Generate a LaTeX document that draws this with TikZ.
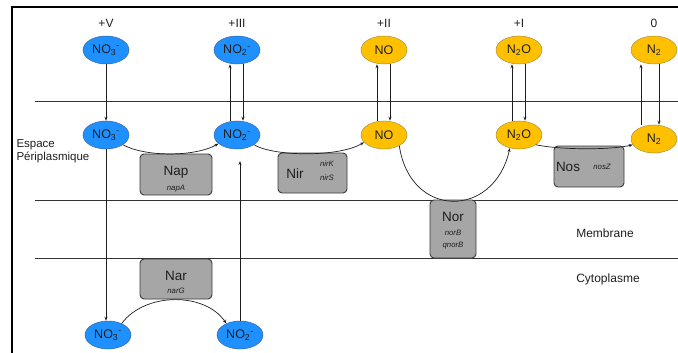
\documentclass[tikz,border=0pt]{standalone}
\usepackage{fontspec}
\setmainfont{Liberation Sans}
\usetikzlibrary{shapes.geometric,arrows.meta}
\definecolor{molblue}{RGB}{30,144,255}
\definecolor{molblueedge}{RGB}{60,100,160}
\definecolor{molyellow}{RGB}{255,192,0}
\definecolor{molyellowedge}{RGB}{170,140,60}
\definecolor{enzfill}{RGB}{166,166,166}
\definecolor{enzedge}{RGB}{60,60,60}
\definecolor{txt}{RGB}{30,30,30}
\newcommand{\subsup}[2]{\textsubscript{#1}\textsuperscript{#2}}
\tikzset{
  mol/.style={ellipse,minimum width=46pt,minimum height=28pt,inner sep=0pt,font=\fontsize{12.5}{13}\selectfont,text=txt},
  bluemol/.style={mol,fill=molblue,draw=molblueedge,line width=0.5pt},
  yelmol/.style={mol,fill=molyellow,draw=molyellowedge,line width=0.5pt},
  enz/.style={draw=enzedge,fill=enzfill,rounded corners=4pt,line width=0.9pt,inner sep=0pt},
  enzname/.style={font=\fontsize{13.5}{14}\selectfont,text=txt},
  gene/.style={font=\fontsize{7.8}{8}\selectfont\itshape,text=txt},
  lbl/.style={font=\fontsize{12}{13}\selectfont,text=txt},
  arr/.style={-{Stealth[length=4pt,width=3pt]},line width=0.7pt,draw=txt},
  sep/.style={line width=0.9pt,draw=black!80},
}
\begin{document}
\begin{tikzpicture}[x=1pt,y=-1pt]
\useasboundingbox (0,0) rectangle (678,353);
% frame
\draw[line width=1.6pt] (12,353) -- (12,7) -- (678,7);
% layer lines
\draw[sep] (35,101) -- (678,101);
\draw[sep] (35,200) -- (678,200);
\draw[sep] (35,258) -- (678,258);
% enzymes
\node[enz,minimum width=72pt,minimum height=41pt] (nap) at (176,174.5) {};
\node[enzname] (napt) at (176,172) {Nap};
\node[gene] (napg) at (176,189) {napA};
\node[enz,minimum width=69pt,minimum height=40pt] (nir) at (312.5,173) {};
\node[enzname] (nirt) at (295,174) {Nir};
\node[gene] (nirk) at (327,164) {nirK};
\node[gene] (nirs) at (327,177.5) {nirS};
\node[enz,minimum width=70pt,minimum height=41pt] (nos) at (589,166.5) {};
\node[enzname] (nost) at (568,167) {Nos};
\node[gene] (nosg) at (602,167) {nosZ};
\node[enz,minimum width=46pt,minimum height=58pt] (nor) at (453,229) {};
\node[enzname] (nort) at (453,217) {Nor};
\node[gene] (norb) at (453,233) {norB};
\node[gene] (qnorb) at (453,246) {qnorB};
\node[enz,minimum width=72pt,minimum height=40pt] (nar) at (176,279) {};
\node[enzname] (nart) at (176,276) {Nar};
\node[gene] (narg) at (176,291) {narG};
% oxidation states
\node[lbl] (sV) at (106,23) {+V};
\node[lbl] (sIII) at (237,23) {+III};
\node[lbl] (sII) at (384,23) {+II};
\node[lbl] (sI) at (519,23) {+I};
\node[lbl] (s0) at (654,23) {0};
% compartment labels
\node[lbl,align=left,anchor=west,font=\fontsize{11.5}{13.5}\selectfont] (peri) at (13,151) {Espace\\Périplasmique};
\node[lbl] (memb) at (605,233) {Membrane};
\node[lbl] (cyto) at (608,279) {Cytoplasme};
% top row
\node[bluemol] (t3) at (106,50) {NO\subsup{3}{-}};
\node[bluemol] (t2) at (237,50) {NO\subsup{2}{-}};
\node[yelmol] (tno) at (384,50) {NO};
\node[yelmol] (tn2o) at (519,50) {N\textsubscript{2}O};
\node[yelmol] (tn2) at (654,50) {N\textsubscript{2}};
% periplasm row
\node[bluemol] (m3) at (106,135) {NO\subsup{3}{-}};
\node[bluemol] (m2) at (237,135) {NO\subsup{2}{-}};
\node[yelmol] (mno) at (384,135) {NO};
\node[yelmol] (mn2o) at (519,135) {N\textsubscript{2}O};
\node[yelmol] (mn2) at (654,139) {N\textsubscript{2}};
% cytoplasm row
\node[bluemol] (b3) at (108,335) {NO\subsup{3}{-}};
\node[bluemol] (b2) at (240,335) {NO\subsup{2}{-}};
% vertical transport arrows
\draw[arr] (t3) -- (m3);
\draw[arr] (m3) -- (b3.north -| m3.south);
\draw[arr] ([xshift=-7pt]m2.north) -- ([xshift=-7pt]t2.south);
\draw[arr] ([xshift=6pt]t2.south) -- ([xshift=6pt]m2.north);
\draw[arr] ([xshift=-7pt]mno.north) -- ([xshift=-7pt]tno.south);
\draw[arr] ([xshift=6pt]tno.south) -- ([xshift=6pt]mno.north);
\draw[arr] ([xshift=-7pt]mn2o.north) -- ([xshift=-7pt]tn2o.south);
\draw[arr] ([xshift=6pt]tn2o.south) -- ([xshift=6pt]mn2o.north);
\draw[arr] ([xshift=-13pt]mn2.north) -- ([xshift=-13pt]tn2.south);
\draw[arr] ([xshift=5pt]tn2.south) -- ([xshift=5pt]mn2.north);
\coordinate (upend) at (240,161);
\draw[arr] (b2.north) -- (upend);
% reaction curves
\draw[arr] (m3.-30) .. controls (145,157) and (195,157) .. (m2.205);
\draw[arr] (m2.-30) .. controls (275,157) and (340,157) .. (mno.200);
\draw[arr] (mno.-35) .. controls (410,219) and (494,219) .. (mn2o.235);
\draw[arr] (mn2o.-30) .. controls (560,150) and (612,150) .. (mn2.195);
\draw[arr] (b3.40) .. controls (145,292) and (205,292) .. (b2.140);
\end{tikzpicture}
\end{document}
